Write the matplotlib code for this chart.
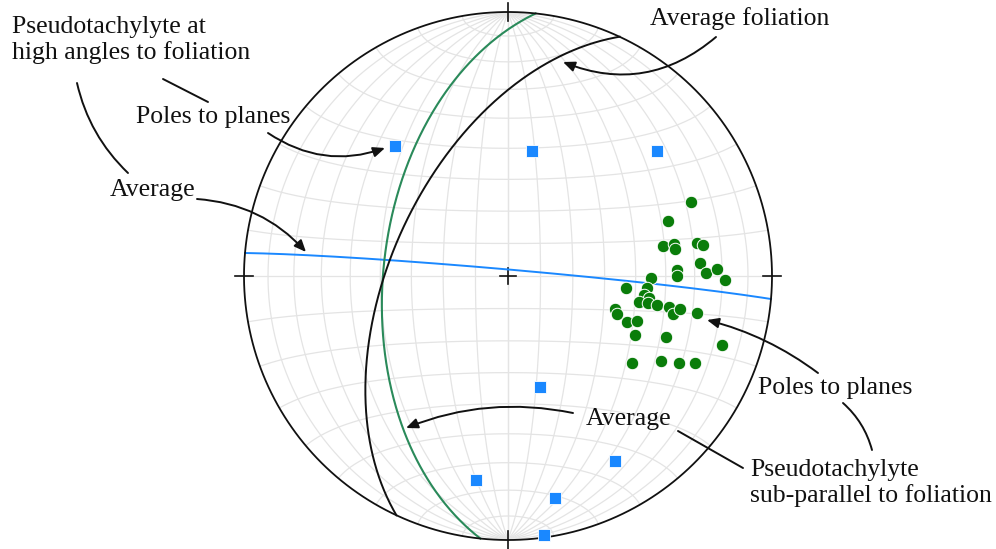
import numpy as np
import matplotlib
matplotlib.use('Agg')
import matplotlib.pyplot as plt

# poles to pseudotachylyte planes at high angles to foliation (trend, plunge)
high_trend = [319, 11, 50, 164, 189, 150, 168, 172]
high_plunge = [35, 50, 27, 54, 23, 20, 15, 1]

# poles to pseudotachylyte planes sub-parallel to foliation (trend, plunge)
par_trend = [68, 71, 79, 79, 81, 80, 81, 86, 89, 88, 91, 88, 90, 91, 96, 95, 98, 99,
             101, 101, 101, 101, 103, 101, 101, 107, 109, 111, 109, 115, 111, 108,
             125, 119, 117, 115]
par_plunge = [26, 36, 40, 36, 36, 28, 26, 28, 26, 22, 19, 36, 36, 45, 53, 46, 47, 45,
              48, 45, 42, 38, 36, 34, 28, 55, 54, 50, 47, 46, 36, 16,
              42, 34, 28, 23]

# average planes (strike, dip; right-hand rule)
avg_high = (275, 88)
avg_par = (186, 51)
avg_foliation = (205, 54)

C_BLUE = '#1a88ff'
C_GREEN = '#0a7d0a'
C_GC_GREEN = '#2a8a5a'
C_GRID = '#e4e4e4'


def project(e, n, z):
    # lower hemisphere equal-area (Schmidt) projection
    s = np.sqrt(1 + z)
    return e / s, n / s


def line_xy(trend, plunge):
    t = np.radians(np.asarray(trend, float))
    p = np.radians(np.asarray(plunge, float))
    return project(np.sin(t) * np.cos(p), np.cos(t) * np.cos(p), np.sin(p))


def plane_xy(strike, dip, n=400):
    s = np.radians(strike)
    d = np.radians(dip)
    lam = np.linspace(0, np.pi, n)
    sv = np.array([np.sin(s), np.cos(s), 0.0])
    dv = np.array([np.sin(s + np.pi / 2) * np.cos(d), np.cos(s + np.pi / 2) * np.cos(d), np.sin(d)])
    v = np.outer(np.cos(lam), sv) + np.outer(np.sin(lam), dv)
    return project(v[:, 0], v[:, 1], v[:, 2])


W, H = 996, 549
cx, cy, R = 508, 276, 264

fig = plt.figure(figsize=(W / 100, H / 100), dpi=100)
ax = fig.add_axes([0, 0, 1, 1])
ax.set_xlim(-cx / R, (W - cx) / R)
ax.set_ylim(-(H - cy) / R, cy / R)
ax.axis('off')

# grid: meridians and small circles every 10 degrees
for dip in range(10, 91, 10):
    for strike in (0, 180):
        x, y = plane_xy(strike, dip)
        ax.plot(x, y, color=C_GRID, lw=0.9, zorder=1)
phi = np.linspace(0, np.pi, 300)
for a in range(10, 171, 10):
    ar = np.radians(a)
    e = np.sin(ar) * np.cos(phi)
    nn = np.full_like(phi, np.cos(ar))
    z = np.sin(ar) * np.sin(phi)
    x, y = project(e, nn, z)
    ax.plot(x, y, color=C_GRID, lw=0.9, zorder=1)

# primitive circle, ticks and centre cross
th = np.linspace(0, 2 * np.pi, 500)
ax.plot(np.cos(th), np.sin(th), color='#111111', lw=1.3, zorder=4)
tk = 0.035
for dx, dy in [(0, 1), (1, 0), (0, -1), (-1, 0)]:
    ax.plot([dx * (1 - tk), dx * (1 + tk)], [dy * (1 - tk), dy * (1 + tk)], color='#111111', lw=1.2)
ax.plot([-0.03, 0.03], [0, 0], color='#111111', lw=1.2)
ax.plot([0, 0], [-0.03, 0.03], color='#111111', lw=1.2)

# great circles
x, y = plane_xy(*avg_high)
ax.plot(x, y, color=C_BLUE, lw=1.4, zorder=3)
x, y = plane_xy(*avg_par)
ax.plot(x, y, color=C_GC_GREEN, lw=1.5, zorder=3)
x, y = plane_xy(*avg_foliation)
ax.plot(x, y, color='#111111', lw=1.4, zorder=3)

# poles
x, y = line_xy(high_trend, high_plunge)
ax.plot(x, y, 's', color=C_BLUE, ms=8.5, mec='white', mew=0.6, zorder=5)
x, y = line_xy(par_trend, par_plunge)
ax.plot(x, y, 'o', color=C_GREEN, ms=9, mec='white', mew=0.7, zorder=5)

# annotation layer in pixel units
ov = fig.add_axes([0, 0, 1, 1])
ov.set_xlim(0, W)
ov.set_ylim(H, 0)
ov.axis('off')
ov.patch.set_alpha(0)

tkw = dict(fontsize=18.5, family='Liberation Serif', color='#111111', ha='left', va='center')
ov.text(12, 40, 'Pseudotachylyte at\nhigh angles to foliation', linespacing=1.15, **tkw)
ov.text(136, 117, 'Poles to planes', **tkw)
ov.text(110, 190, 'Average', **tkw)
ov.text(650, 19, 'Average foliation', **tkw)
ov.text(758, 388, 'Poles to planes', **tkw)
ov.text(586, 419, 'Average', **tkw)
ov.text(750, 483, 'Pseudotachylyte\nsub-parallel to foliation', linespacing=1.15, **tkw)


def connect(p0, p1, rad=0.0, head=True):
    style = '-|>,head_length=0.7,head_width=0.3' if head else '-'
    ov.annotate('', xy=p1, xytext=p0,
                arrowprops=dict(arrowstyle=style, connectionstyle=f'arc3,rad={rad}',
                                lw=1.4, color='#111111', shrinkA=0, shrinkB=0))


connect((163, 79), (208, 102), head=False)
connect((77, 83), (128, 173), rad=0.15, head=False)
connect((268, 133), (385, 148), rad=0.25)
connect((197, 199), (306, 252), rad=-0.2)
connect((716, 37), (563, 62), rad=-0.3)
connect((818, 373), (707, 320), rad=0.1)
connect((843, 403), (872, 450), rad=-0.15, head=False)
connect((678, 431), (743, 468), head=False)
connect((573, 413), (406, 428), rad=0.15)

fig.savefig('out.png', dpi=100)
